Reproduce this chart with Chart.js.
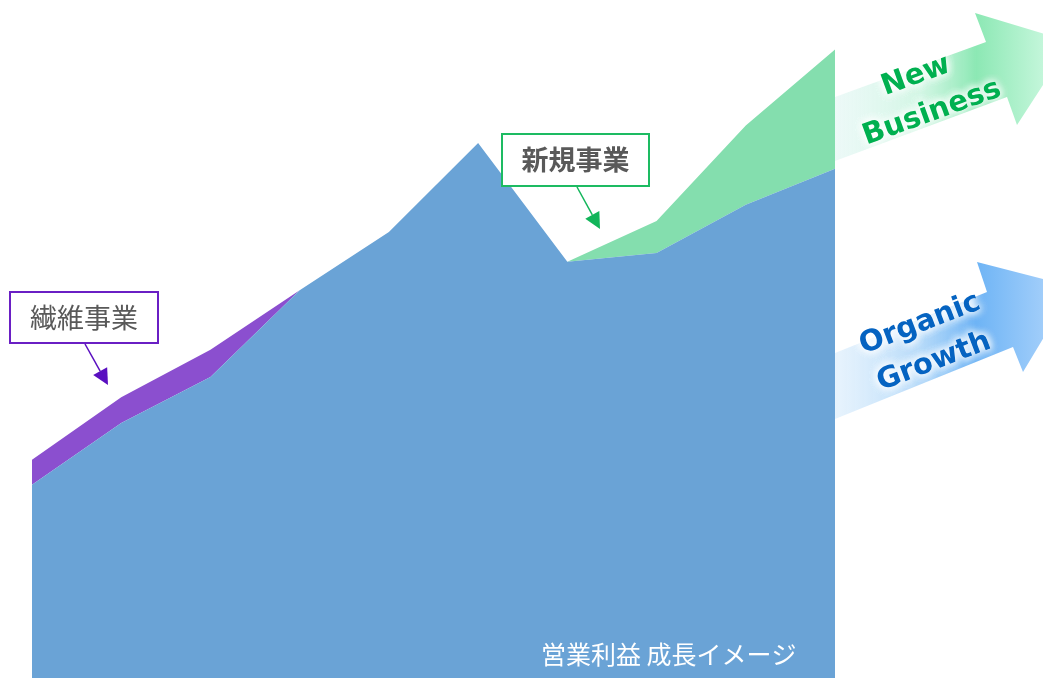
<!DOCTYPE html>
<html>
<head>
<meta charset="utf-8">
<script src="https://cdn.jsdelivr.net/npm/chart.js@4/dist/chart.umd.min.js"></script>
<style>
  body { margin: 0; background: #fff; }
  #wrap { width: 1043px; height: 678px; }
</style>
</head>
<body>
<div id="wrap"><canvas id="growthChart" width="1043" height="678"></canvas></div>
<script>
// Periods (no labels shown in the picture)
const periods = ['1', '2', '3', '4', '5', '6', '7', '8', '9', '10'];

// Organic growth (base layer), scale 0-100
const organic = [28.5, 37.6, 44.4, 57.2, 65.8, 78.9, 61.4, 62.7, 69.8, 75.1];
// Fibre business (stacked on top, fading out)
const fibre = [3.7, 3.8, 4.0, 0, 0, 0, 0, 0, 0, 0];
// New business (stacked on top, growing)
const newBiz = [0, 0, 0, 0, 0, 0, 0, 4.7, 11.7, 17.6];

const labelFont = '"Noto Sans CJK JP", "Noto Sans", sans-serif';

function drawBox(ctx, x, y, w, h, color, text, bold) {
    ctx.save();
    ctx.fillStyle = '#fff';
    ctx.fillRect(x, y, w, h);
    ctx.strokeStyle = color;
    ctx.lineWidth = 2;
    ctx.strokeRect(x, y, w, h);
    ctx.fillStyle = '#595959';
    ctx.font = (bold ? 'bold ' : '') + '27px ' + labelFont;
    ctx.textAlign = 'center';
    ctx.textBaseline = 'middle';
    ctx.fillText(text, x + w / 2, y + h / 2);
    ctx.restore();
}

function drawPointer(ctx, x1, y1, x2, y2, color) {
    const ang = Math.atan2(y2 - y1, x2 - x1);
    const len = 16, half = 8;
    const bx = x2 - len * Math.cos(ang), by = y2 - len * Math.sin(ang);
    ctx.save();
    ctx.strokeStyle = color;
    ctx.fillStyle = color;
    ctx.lineWidth = 1.5;
    ctx.beginPath();
    ctx.moveTo(x1, y1);
    ctx.lineTo(bx, by);
    ctx.stroke();
    ctx.beginPath();
    ctx.moveTo(x2, y2);
    ctx.lineTo(bx + half * Math.sin(ang), by - half * Math.cos(ang));
    ctx.lineTo(bx - half * Math.sin(ang), by + half * Math.cos(ang));
    ctx.closePath();
    ctx.fill();
    ctx.restore();
}

function drawBigArrow(ctx, pts, stops) {
    ctx.save();
    const g = ctx.createLinearGradient(820, 0, 1043, 0);
    stops.forEach(s => g.addColorStop(s[0], s[1]));
    ctx.fillStyle = g;
    ctx.beginPath();
    pts.forEach((p, i) => i ? ctx.lineTo(p[0], p[1]) : ctx.moveTo(p[0], p[1]));
    ctx.closePath();
    ctx.fill();
    ctx.restore();
}

function drawGlowText(ctx, text, cx, cy, angle, color) {
    ctx.save();
    ctx.translate(cx, cy);
    ctx.rotate(angle);
    ctx.font = 'bold 29px "DejaVu Sans", Verdana, sans-serif';
    ctx.textAlign = 'center';
    ctx.textBaseline = 'middle';
    ctx.shadowColor = 'rgba(255,255,255,1)';
    ctx.shadowBlur = 8;
    ctx.fillStyle = 'rgba(255,255,255,0.9)';
    for (let i = 0; i < 3; i++) ctx.fillText(text, 0, 0);
    ctx.shadowBlur = 0;
    ctx.fillStyle = color;
    ctx.fillText(text, 0, 0);
    ctx.restore();
}

const decorations = {
    id: 'decorations',
    afterDatasetsDraw(chart) {
        const ctx = chart.ctx;

        // caption inside the blue area
        ctx.save();
        ctx.fillStyle = '#fff';
        ctx.font = '25px ' + labelFont;
        ctx.textBaseline = 'middle';
        ctx.fillText('営業利益 成長イメージ', 541, 654);
        ctx.restore();

        // call-out boxes
        drawBox(ctx, 10, 292, 148, 51, '#6a1fc4', '繊維事業', false);
        drawPointer(ctx, 85, 344, 108, 385, '#5a0fc0');
        drawBox(ctx, 502, 134, 147, 52, '#1dbb62', '新規事業', true);
        drawPointer(ctx, 577, 187, 600, 229, '#12b55a');

        // New Business arrow
        drawBigArrow(ctx,
            [[835, 97], [986, 42], [975, 13], [1071, 42], [1017, 125], [1007, 97], [835, 161]],
            [[0, 'rgba(225,245,245,0.5)'], [0.45, 'rgba(200,244,222,0.8)'],
             [0.7, 'rgba(140,232,180,1)'], [1, 'rgba(195,246,218,1)']]);
        drawGlowText(ctx, 'New', 916, 76, -20 * Math.PI / 180, '#00b050');
        drawGlowText(ctx, 'Business', 932, 113, -20 * Math.PI / 180, '#00b050');

        // Organic Growth arrow
        drawBigArrow(ctx,
            [[835, 353], [987, 292], [977, 262], [1074, 287], [1023, 372], [1013, 347], [835, 419]],
            [[0, 'rgba(220,238,252,0.5)'], [0.45, 'rgba(170,212,248,0.85)'],
             [0.7, 'rgba(110,180,245,1)'], [1, 'rgba(160,205,250,1)']]);
        drawGlowText(ctx, 'Organic', 920, 324, -21 * Math.PI / 180, '#0563c1');
        drawGlowText(ctx, 'Growth', 934, 362, -21 * Math.PI / 180, '#0563c1');
    }
};

new Chart(document.getElementById('growthChart'), {
    type: 'line',
    data: {
        labels: periods,
        datasets: [
            {
                label: 'Organic Growth',
                data: organic,
                backgroundColor: '#6aa3d6',
                borderWidth: 0,
                pointRadius: 0,
                fill: 'origin',
                tension: 0
            },
            {
                label: '繊維事業',
                data: fibre,
                backgroundColor: '#8b4fcf',
                borderWidth: 0,
                pointRadius: 0,
                fill: '-1',
                tension: 0
            },
            {
                label: '新規事業',
                data: newBiz,
                backgroundColor: '#84deae',
                borderWidth: 0,
                pointRadius: 0,
                fill: '-1',
                tension: 0
            }
        ]
    },
    options: {
        responsive: false,
        animation: false,
        layout: { padding: { left: 32, right: 208, top: 0, bottom: 0 } },
        plugins: {
            legend: { display: false },
            tooltip: { enabled: false },
            filler: { drawTime: 'beforeDatasetsDraw' }
        },
        scales: {
            x: { display: false, offset: false },
            y: { display: false, stacked: true, min: 0, max: 100 }
        }
    },
    plugins: [decorations]
});
</script>
</body>
</html>
